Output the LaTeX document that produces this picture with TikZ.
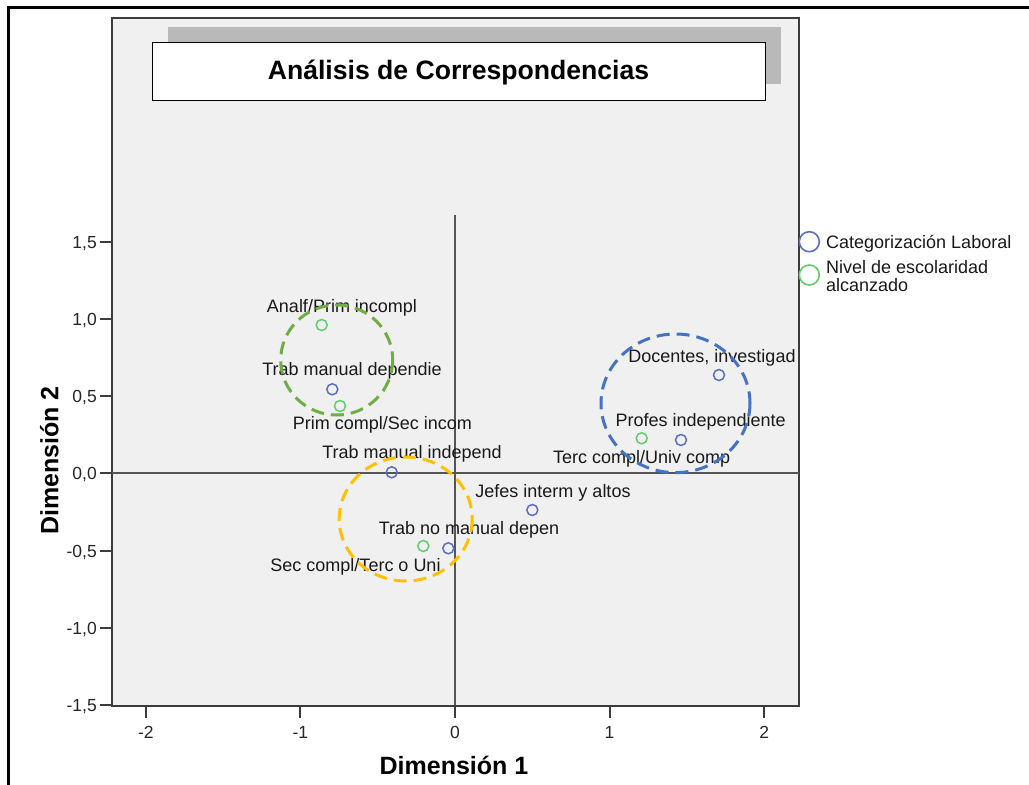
\documentclass[tikz,border=0pt]{standalone}
\usepackage{fontspec}
\setmainfont{Liberation Sans}
\definecolor{plotbg}{RGB}{240,240,240}
\definecolor{ptblue}{RGB}{92,110,196}
\definecolor{ptgreen}{RGB}{98,204,110}
\definecolor{cgreen}{RGB}{112,173,71}
\definecolor{cblue}{RGB}{68,114,196}
\definecolor{corange}{RGB}{255,192,0}
\definecolor{shadowgray}{RGB}{185,185,185}
\definecolor{axisgray}{RGB}{85,85,85}
\definecolor{framegray}{RGB}{60,60,60}
\tikzset{
  bpt/.style={circle, draw=ptblue, line width=1.5bp, minimum size=11bp, inner sep=0pt},
  gpt/.style={circle, draw=ptgreen, line width=1.5bp, minimum size=11bp, inner sep=0pt},
  lbl/.style={font=\fontsize{18bp}{21bp}\selectfont, inner sep=0pt, text=black!90, anchor=base},
  ticklbl/.style={font=\fontsize{17.5bp}{20bp}\selectfont, inner sep=0pt, text=black!85},
  axtitle/.style={font=\fontsize{25bp}{28bp}\selectfont\bfseries, inner sep=0pt, anchor=base},
  tickmark/.style={draw=framegray, line width=2bp},
  axisline/.style={draw=axisgray, line width=2bp},
  ring/.style={line width=3bp, dash pattern=on 13bp off 7bp},
  legmark/.style={circle, line width=1.6bp, minimum size=20bp, inner sep=0pt}
}
\begin{document}
\begin{tikzpicture}[x=1bp,y=-1bp]
\useasboundingbox (0,0) rectangle (1029,785);
\clip (0,0) rectangle (1029,785);
\fill[white] (0,0) rectangle (1029,785);
% outer frame (cropped)
\draw[line width=2.2bp, black] (8.5,7.5) rectangle (1200,900);
% plot area
\draw[fill=plotbg, draw=framegray, line width=2bp] (111.5,18.5) rectangle (799,705.5);
% title with shadow
\fill[shadowgray] (168,27) rectangle (781,84.5);
\node[draw=black, fill=white, line width=1bp, minimum width=613bp, minimum height=58bp, inner sep=0pt, anchor=north west] (titlebox) at (152.3,42.3) {};
\node[font=\fontsize{26.6bp}{30bp}\selectfont\bfseries, inner sep=0pt, anchor=base] (title) at (458.5,79.3) {Análisis de Correspondencias};
% axes through origin
\coordinate (vtop) at (455,215);
\coordinate (vbot) at (455,705);
\coordinate (hleft) at (111.5,473.3);
\coordinate (hright) at (799,473.3);
\draw[axisline] (vtop) -- (vbot);
\draw[axisline] (hleft) -- (hright);
% y ticks
\foreach \yy/\tl in {241.7/{1,5},319/{1,0},395.7/{0,5},473.3/{0,0},551/{-0,5},627.7/{-1,0},705/{-1,5}}{
  \draw[tickmark] (100,\yy) -- (111.5,\yy);
  \node[ticklbl, anchor=base east] at (97,\yy+6.5) {\tl};
}
% x ticks
\foreach \xx/\tl in {145.8/-2,300.4/-1,455/0,609.6/1,764.2/2}{
  \draw[tickmark] (\xx,705.5) -- (\xx,718);
  \node[ticklbl, anchor=base] at (\xx,738) {\tl};
}
% axis titles
\node[axtitle] (xlab) at (454,774) {Dimensión 1};
\node[axtitle, rotate=90] (ylab) at (58.3,460.5) {Dimensión 2};
% points
\node[gpt] (analf) at (321.7,325) {};
\node[bpt] (tmdep) at (332.3,389.3) {};
\node[gpt] (primc) at (340,406) {};
\node[bpt] (tmind) at (391.7,472.3) {};
\node[bpt] (jefes) at (532.3,510) {};
\node[gpt] (secc) at (423.3,546) {};
\node[bpt] (tnmd) at (448.3,548.3) {};
\node[bpt] (docen) at (719,375) {};
\node[gpt] (tercc) at (641.7,438.3) {};
\node[bpt] (profi) at (681,440) {};
% labels
\node[lbl] (l-analf) at (342,312) {Analf/Prim incompl};
\node[lbl] (l-tmdep) at (352,375) {Trab manual dependie};
\node[lbl] (l-primc) at (382.5,429.5) {Prim compl/Sec incom};
\node[lbl] (l-tmind) at (412,458) {Trab manual independ};
\node[lbl] (l-jefes) at (553,497.5) {Jefes interm y altos};
\node[lbl] (l-tnmd) at (469,534.5) {Trab no manual depen};
\node[lbl] (l-secc) at (355.5,571) {Sec compl/Terc o Uni};
\node[lbl] (l-docen) at (712,362) {Docentes, investigad};
\node[lbl] (l-profi) at (700.7,426) {Profes independiente};
\node[lbl] (l-tercc) at (641.7,463) {Terc compl/Univ comp};
% dashed group rings
\draw[ring, cgreen] (336.7,360) ellipse [x radius=56, y radius=55];
\draw[ring, corange] (405.7,519) ellipse [x radius=66.5, y radius=62];
\draw[ring, cblue] (675.5,403.3) ellipse [x radius=74.5, y radius=69.3];
% legend
\node[legmark, draw=ptblue] (leg1) at (809.3,241.7) {};
\node[legmark, draw=ptgreen] (leg2) at (809.3,275) {};
\node[lbl, anchor=base west] (leg1t) at (826,248.3) {Categorización Laboral};
\node[lbl, anchor=base west] (leg2t) at (826,273.3) {Nivel de escolaridad};
\node[lbl, anchor=base west] (leg2u) at (826,291.7) {alcanzado};
\end{tikzpicture}
\end{document}
